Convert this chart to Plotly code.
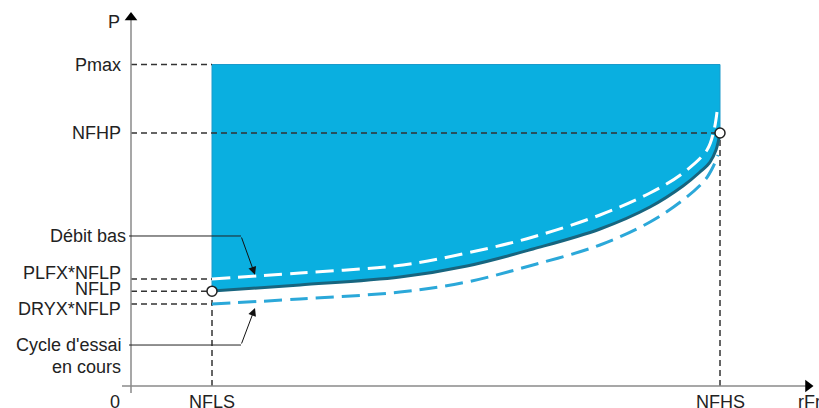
import plotly.graph_objects as go

# ---- data (abstract units) ----
NFLS = 8.1          # low speed
NFHS = 58.9         # high speed
P_MAX = 100.0
NFHP = 78.7
PLFX_NFLP = 33.3
NFLP = 29.5
DRYX_NFLP = 25.5

level_names = ["Pmax", "NFHP", "PLFX*NFLP", "NFLP", "DRYX*NFLP"]
level_values = [P_MAX, NFHP, PLFX_NFLP, NFLP, DRYX_NFLP]

# main power curve (NFLS,NFLP) -> (NFHS,NFHP)
curve_x = [8.1, 16.9, 26.9, 33.6, 40.2, 46.9, 51.9, 55.2, 56.9, 57.9, 58.5, 58.9]
curve_y = [29.55, 31.42, 33.90, 37.33, 42.61, 48.83, 55.68, 62.21, 66.56, 69.67, 73.41, 78.69]

# "Débit bas" threshold curve (white dashed)
low_x = [8.1, 16.9, 27.2, 33.6, 40.2, 46.9, 51.9, 55.2, 57.6, 58.3, 58.6]
low_y = [33.28, 35.15, 37.64, 41.37, 46.35, 53.19, 60.03, 66.25, 73.41, 79.63, 85.23]

# dry-run threshold curve (cyan dashed)
dry_x = [8.1, 16.9, 26.9, 33.6, 40.2, 46.9, 51.9, 55.2, 57.4, 58.2, 58.7]
dry_y = [25.51, 27.06, 29.24, 32.35, 37.64, 43.86, 51.01, 57.85, 64.07, 68.12, 71.85]

FILL = "#0aafe0"
DARK = "#17657f"
CYAN = "#2ba8d9"
DASH_K = "#333333"
AXIS = "#8a8a8a"
FONT = dict(family="Liberation Sans, Arial, sans-serif", size=18, color="#222222")

fig = go.Figure()

# filled operating zone
poly_x = [NFLS, NFHS, NFHS] + curve_x[::-1] + [NFLS]
poly_y = [P_MAX, P_MAX, NFHP] + curve_y[::-1] + [P_MAX]
fig.add_trace(go.Scatter(x=poly_x, y=poly_y, mode="lines", fill="toself",
                         fillcolor=FILL, line=dict(color="#1b9acb", width=1),
                         hoverinfo="skip", showlegend=False))

# dashed reference lines
for name, val in zip(level_names, level_values):
    xe = NFHS if name == "NFHP" else NFLS
    fig.add_trace(go.Scatter(x=[0, xe], y=[val, val], mode="lines",
                             line=dict(color=DASH_K, width=1.5, dash="6px,4px"),
                             hoverinfo="skip", showlegend=False))
fig.add_trace(go.Scatter(x=[NFLS, NFLS], y=[0, NFLP], mode="lines",
                         line=dict(color=DASH_K, width=1.5, dash="6px,4px"),
                         hoverinfo="skip", showlegend=False))
fig.add_trace(go.Scatter(x=[NFHS, NFHS], y=[0, NFHP], mode="lines",
                         line=dict(color=DASH_K, width=1.5, dash="6px,4px"),
                         hoverinfo="skip", showlegend=False))

# curves
fig.add_trace(go.Scatter(x=dry_x, y=dry_y, mode="lines", line_shape="spline",
                         line=dict(color=CYAN, width=3, dash="18px,8px"),
                         hoverinfo="skip", showlegend=False))
fig.add_trace(go.Scatter(x=curve_x, y=curve_y, mode="lines", line_shape="spline",
                         line=dict(color=DARK, width=3),
                         hoverinfo="skip", showlegend=False))
fig.add_trace(go.Scatter(x=low_x, y=low_y, mode="lines", line_shape="spline",
                         line=dict(color="white", width=3, dash="18px,8px"),
                         hoverinfo="skip", showlegend=False))

# end points
fig.add_trace(go.Scatter(x=[NFLS, NFHS], y=[NFLP, NFHP], mode="markers",
                         marker=dict(size=10, color="white",
                                     line=dict(color="#222222", width=1.5)),
                         hoverinfo="skip", showlegend=False))

# axes
fig.add_trace(go.Scatter(x=[0, 0], y=[-2.2, 114.5], mode="lines",
                         line=dict(color=AXIS, width=1.5),
                         hoverinfo="skip", showlegend=False))
fig.add_trace(go.Scatter(x=[-0.9, 67.5], y=[0, 0], mode="lines",
                         line=dict(color=AXIS, width=1.5),
                         hoverinfo="skip", showlegend=False))
fig.add_trace(go.Scatter(x=[0], y=[114.6], mode="markers",
                         marker=dict(symbol="triangle-up", size=11, color="black"),
                         hoverinfo="skip", showlegend=False))
fig.add_trace(go.Scatter(x=[67.7], y=[0], mode="markers",
                         marker=dict(symbol="triangle-right", size=11, color="black"),
                         hoverinfo="skip", showlegend=False))

# leader lines
fig.add_trace(go.Scatter(x=[-0.2, 11.0], y=[46.66, 46.66], mode="lines",
                         line=dict(color="#222222", width=1),
                         hoverinfo="skip", showlegend=False))
fig.add_trace(go.Scatter(x=[-0.2, 11.0], y=[12.75, 12.75], mode="lines",
                         line=dict(color="#222222", width=1),
                         hoverinfo="skip", showlegend=False))
fig.add_annotation(x=12.4, y=34.6, ax=11.0, ay=46.66, axref="x", ayref="y",
                   xref="x", yref="y", text="", showarrow=True, arrowhead=2,
                   arrowsize=1.6, arrowwidth=1, arrowcolor="#111111")
fig.add_annotation(x=12.4, y=24.3, ax=11.0, ay=12.75, axref="x", ayref="y",
                   xref="x", yref="y", text="", showarrow=True, arrowhead=2,
                   arrowsize=1.6, arrowwidth=1, arrowcolor="#111111")

# text labels
label_pos = {"Pmax": P_MAX, "NFHP": NFHP, "PLFX*NFLP": 35.2,
             "NFLP": 30.2, "DRYX*NFLP": 23.9}
for name, yv in label_pos.items():
    fig.add_annotation(x=-0.8, y=yv, text=name, showarrow=False,
                       xanchor="right", yanchor="middle", font=FONT)
fig.add_annotation(x=-0.3, y=46.66, text="Débit bas", showarrow=False,
                   xanchor="right", yanchor="middle", font=FONT)
fig.add_annotation(x=-0.8, y=12.75, text="Cycle d'essai", showarrow=False,
                   xanchor="right", yanchor="middle", font=FONT)
fig.add_annotation(x=-0.8, y=5.9, text="en cours", showarrow=False,
                   xanchor="right", yanchor="middle", font=FONT)
fig.add_annotation(x=-0.9, y=113.2, text="P", showarrow=False,
                   xanchor="right", yanchor="middle", font=FONT)
fig.add_annotation(x=-0.9, y=-5.0, text="0", showarrow=False,
                   xanchor="right", yanchor="middle", font=FONT)
fig.add_annotation(x=NFLS, y=-5.0, text="NFLS", showarrow=False,
                   xanchor="center", yanchor="middle", font=FONT)
fig.add_annotation(x=NFHS, y=-5.0, text="NFHS", showarrow=False,
                   xanchor="center", yanchor="middle", font=FONT)
fig.add_annotation(x=66.5, y=-5.0, text="rFr", showarrow=False,
                   xanchor="left", yanchor="middle", font=FONT)

fig.update_layout(
    width=819, height=408, autosize=False,
    margin=dict(l=0, r=0, t=0, b=0),
    paper_bgcolor="white", plot_bgcolor="white",
    xaxis=dict(range=[-13.1, 68.8], visible=False, fixedrange=True),
    yaxis=dict(range=[-6.84, 120.06], visible=False, fixedrange=True),
)

fig.write_html("out.html", config={"displayModeBar": False},
               post_script="document.body.style.margin='0';document.body.style.overflow='hidden';")
